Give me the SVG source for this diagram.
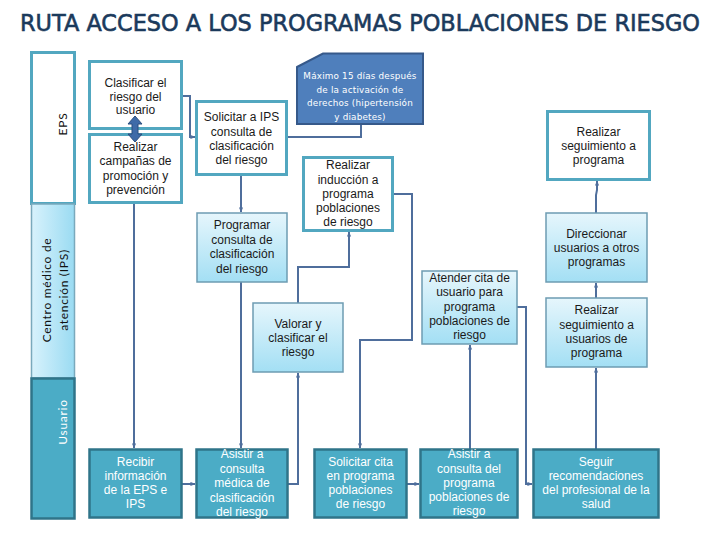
<svg xmlns="http://www.w3.org/2000/svg" width="720" height="540" viewBox="0 0 720 540">
<defs>
<linearGradient id="lb" x1="0" y1="0" x2="0" y2="1">
<stop offset="0" stop-color="#E6F6FC"/>
<stop offset="1" stop-color="#A3DFF4"/>
</linearGradient>
<linearGradient id="lane" x1="0" y1="0" x2="1" y2="0">
<stop offset="0" stop-color="#D8F2FC"/>
<stop offset="1" stop-color="#9ADBF2"/>
</linearGradient>
<marker id="ah" viewBox="0 0 6 6" refX="5.5" refY="3" markerWidth="5" markerHeight="5" orient="auto" markerUnits="userSpaceOnUse">
<path d="M0,0.5 L6,3 L0,5.5 Z" fill="#4F6E9C"/>
</marker>
<style>
.t{font-family:"Liberation Sans",Arial,sans-serif;font-size:12px;text-anchor:middle;fill:#1a1a1a}
.tw{fill:#fff}
.wb{fill:#fff;stroke:#52A7C0;stroke-width:3}
.gb{fill:url(#lb);stroke:#6D9CB2;stroke-width:1.5}
.ub{fill:#4BACC6;stroke:#2F7489;stroke-width:2.5}
.c{fill:none;stroke:#4F6E9C;stroke-width:2}
.lt{font-family:"Lato","DejaVu Sans",sans-serif;font-size:12px;letter-spacing:0.7px;text-anchor:middle}
</style>
</defs>
<rect width="720" height="540" fill="#fff"/>
<text x="360" y="31" font-family="DejaVu Sans, sans-serif" font-size="23" fill="#1B3A5C" stroke="#1B3A5C" stroke-width="0.6" text-anchor="middle" textLength="680" lengthAdjust="spacingAndGlyphs">RUTA ACCESO A LOS PROGRAMAS POBLACIONES DE RIESGO</text>

<g id="lane-eps">
<rect x="31.5" y="52.5" width="43" height="151" fill="#fff" stroke="#52A7C0" stroke-width="3"/>
<text class="lt" transform="translate(67,124) rotate(-90)" fill="#111">EPS</text>
</g>
<g id="lane-ips">
<rect x="31.5" y="204" width="43" height="174" fill="url(#lane)" stroke="#7AA9BC" stroke-width="1.5"/>
<text class="lt" transform="translate(51,290) rotate(-90)" fill="#111">Centro médico de</text>
<text class="lt" transform="translate(68,290) rotate(-90)" fill="#111">atención (IPS)</text>
</g>
<g id="lane-usuario">
<rect x="31.5" y="378.5" width="43" height="140" fill="#4BACC6" stroke="#2F7489" stroke-width="2.5"/>
<text class="lt" transform="translate(67,422) rotate(-90)" fill="#fff">Usuario</text>
</g>

<g id="connectors">
<polyline class="c" points="182,96 190,96 190,137 195,137" marker-end="url(#ah)"/>
<polyline class="c" points="361,124 361,137 287,137"/>
<line class="c" x1="134" y1="203" x2="134" y2="448" marker-end="url(#ah)"/>
<line class="c" x1="241" y1="175" x2="241" y2="212" marker-end="url(#ah)"/>
<line class="c" x1="241" y1="282" x2="241" y2="448" marker-end="url(#ah)"/>
<polyline class="c" points="182,484 195,484" marker-end="url(#ah)"/>
<polyline class="c" points="288,484 298,484 298,373" marker-end="url(#ah)"/>
<polyline class="c" points="298,303 298,267 349,267 349,232" marker-end="url(#ah)"/>
<polyline class="c" points="393,194 412,194 412,340 360,340 360,448" marker-end="url(#ah)"/>
<polyline class="c" points="407,484 419,484" marker-end="url(#ah)"/>
<line class="c" x1="470" y1="449" x2="470" y2="345" marker-end="url(#ah)"/>
<polyline class="c" points="517,307 526,307 526,484 532,484" marker-end="url(#ah)"/>
<line class="c" x1="596" y1="449" x2="596" y2="368" marker-end="url(#ah)"/>
<line class="c" x1="596" y1="298" x2="596" y2="283" marker-end="url(#ah)"/>
<polyline class="c" points="596,213 596,195 597,190 597,181" marker-end="url(#ah)"/>
</g>

<g id="n-clasificar">
<rect class="wb" x="89.5" y="61.5" width="92" height="67"/>
<text class="t" x="135.5" y="87">Clasificar el</text>
<text class="t" x="135.5" y="100.5">riesgo del</text>
<text class="t" x="135.5" y="114">usuario</text>
</g>
<g id="n-campanas">
<rect class="wb" x="89.5" y="134.5" width="92" height="68"/>
<text class="t" x="135.5" y="151">Realizar</text>
<text class="t" x="135.5" y="165">campañas de</text>
<text class="t" x="135.5" y="179.5">promoción y</text>
<text class="t" x="135.5" y="194">prevención</text>
</g>
<g id="double-arrow">
<polygon points="135,116 142,124 138,124 138,134 142,134 135,142 128,134 132,134 132,124 128,124" fill="#3F6BA8" stroke="#2B4E7E" stroke-width="1"/>
</g>
<g id="n-solicitar-ips">
<rect class="wb" x="196.5" y="101.5" width="90" height="73"/>
<text class="t" x="241.5" y="121">Solicitar a IPS</text>
<text class="t" x="241.5" y="135.5">consulta de</text>
<text class="t" x="241.5" y="150">clasificación</text>
<text class="t" x="241.5" y="164">del riesgo</text>
</g>
<g id="n-nota">
<path d="M297,67 L323,53.5 L423,53.5 L423,124 L297,124 Z" fill="#4F7FBC" stroke="#36598A" stroke-width="2"/>
<g font-family="'DejaVu Sans',sans-serif" font-size="8.8" fill="#fff" text-anchor="middle" letter-spacing="0.2">
<text x="360" y="79">Máximo 15 días después</text>
<text x="360" y="93">de la activación de</text>
<text x="360" y="106">derechos (hipertensión</text>
<text x="360" y="120">y diabetes)</text>
</g>
</g>
<g id="n-programar">
<rect class="gb" x="197" y="213" width="90" height="69"/>
<text class="t" x="242" y="229">Programar</text>
<text class="t" x="242" y="243.5">consulta de</text>
<text class="t" x="242" y="258">clasificación</text>
<text class="t" x="242" y="272.5">del riesgo</text>
</g>
<g id="n-induccion">
<rect class="wb" x="303.5" y="157.5" width="89" height="73"/>
<text class="t" x="348" y="169">Realizar</text>
<text class="t" x="348" y="183.5">inducción a</text>
<text class="t" x="348" y="198">programa</text>
<text class="t" x="348" y="212">poblaciones</text>
<text class="t" x="348" y="226">de riesgo</text>
</g>
<g id="n-valorar">
<rect class="gb" x="253" y="303" width="90" height="69"/>
<text class="t" x="298" y="328">Valorar y</text>
<text class="t" x="298" y="342">clasificar el</text>
<text class="t" x="298" y="356">riesgo</text>
</g>
<g id="n-atender">
<rect class="gb" x="422" y="271" width="95" height="73"/>
<text class="t" x="469.5" y="282">Atender cita de</text>
<text class="t" x="469.5" y="296">usuario para</text>
<text class="t" x="469.5" y="310.5">programa</text>
<text class="t" x="469.5" y="325">poblaciones de</text>
<text class="t" x="469.5" y="339">riesgo</text>
</g>
<g id="n-seguimiento-programa">
<rect class="wb" x="547.5" y="111.5" width="102" height="68"/>
<text class="t" x="598.5" y="136">Realizar</text>
<text class="t" x="598.5" y="150">seguimiento a</text>
<text class="t" x="598.5" y="164">programa</text>
</g>
<g id="n-direccionar">
<rect class="gb" x="546" y="213" width="101" height="69"/>
<text class="t" x="596.5" y="238">Direccionar</text>
<text class="t" x="596.5" y="252">usuarios a otros</text>
<text class="t" x="596.5" y="266">programas</text>
</g>
<g id="n-seguimiento-usuarios">
<rect class="gb" x="546" y="298" width="101" height="69"/>
<text class="t" x="596.5" y="314">Realizar</text>
<text class="t" x="596.5" y="328.5">seguimiento a</text>
<text class="t" x="596.5" y="343">usuarios de</text>
<text class="t" x="596.5" y="357">programa</text>
</g>
<g id="n-recibir">
<rect class="ub" x="89.5" y="449.5" width="92" height="68"/>
<text class="t tw" x="135.5" y="466">Recibir</text>
<text class="t tw" x="135.5" y="480">información</text>
<text class="t tw" x="135.5" y="494">de la EPS e</text>
<text class="t tw" x="135.5" y="508">IPS</text>
</g>
<g id="n-asistir-medica">
<rect class="ub" x="196.5" y="449.5" width="91" height="68"/>
<text class="t tw" x="242" y="458">Asistir a</text>
<text class="t tw" x="242" y="473">consulta</text>
<text class="t tw" x="242" y="487">médica  de</text>
<text class="t tw" x="242" y="502">clasificación</text>
<text class="t tw" x="242" y="516">del riesgo</text>
</g>
<g id="n-solicitar-cita">
<rect class="ub" x="314.5" y="449.5" width="92" height="68"/>
<text class="t tw" x="360.5" y="466">Solicitar cita</text>
<text class="t tw" x="360.5" y="480">en programa</text>
<text class="t tw" x="360.5" y="494">poblaciones</text>
<text class="t tw" x="360.5" y="508">de riesgo</text>
</g>
<g id="n-asistir-programa">
<rect class="ub" x="420.5" y="449.5" width="97" height="68"/>
<text class="t tw" x="469" y="458">Asistir a</text>
<text class="t tw" x="469" y="473">consulta del</text>
<text class="t tw" x="469" y="487">programa</text>
<text class="t tw" x="469" y="501">poblaciones de</text>
<text class="t tw" x="469" y="515">riesgo</text>
</g>
<g id="n-seguir">
<rect class="ub" x="533.5" y="449.5" width="125" height="68"/>
<text class="t tw" x="596" y="466">Seguir</text>
<text class="t tw" x="596" y="480">recomendaciones</text>
<text class="t tw" x="596" y="494">del profesional de la</text>
<text class="t tw" x="596" y="508">salud</text>
</g>
</svg>
